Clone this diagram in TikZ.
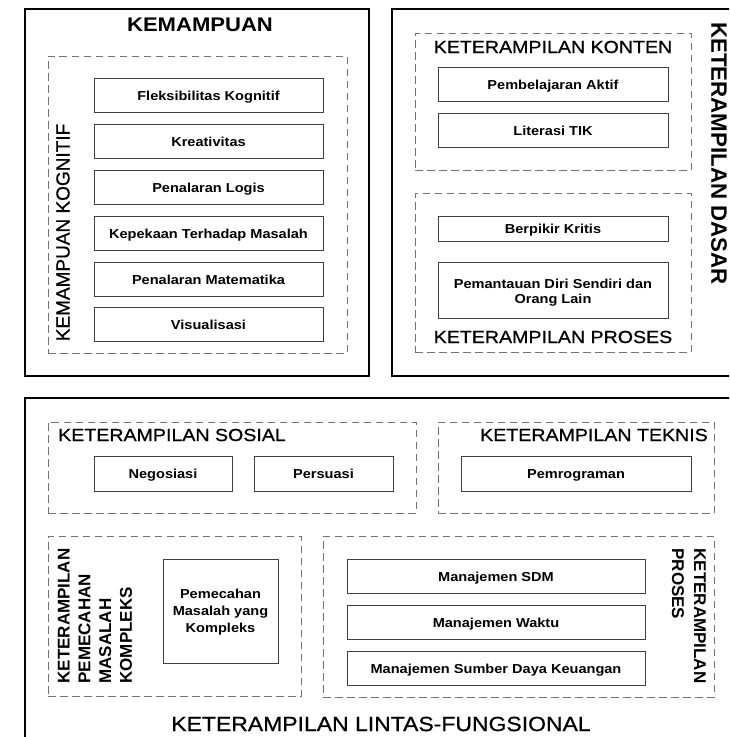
\documentclass[tikz,border=0pt]{standalone}
\usepackage{fontspec}
\setmainfont[FakeStretch=1.12]{Liberation Sans}
\newfontfamily\rotfont{Liberation Sans}
\newfontfamily\titfont[FakeStretch=1.12, FakeBold=0.7]{Liberation Sans}
\newfontfamily\rottitfont[FakeBold=0.7]{Liberation Sans}
\begin{document}
\begin{tikzpicture}[x=1pt,y=-1pt,
  outerbox/.style={draw=black, line width=1.4pt, inner sep=0pt},
  grp/.style={draw=black!55, line width=0.9pt, dash pattern=on 7.5pt off 4.5pt, inner sep=0pt},
  item/.style={draw=black!75, line width=0.9pt, inner sep=0pt, align=center,
    font=\bfseries\fontsize{13}{15}\selectfont},
  one/.style={item, text height=10.3pt, text depth=0pt},
  htitle/.style={inner sep=0pt, font=\titfont\fontsize{17.5}{20}\selectfont},
  btitle/.style={inner sep=0pt, font=\bfseries\fontsize{19.7}{22}\selectfont},
]
\useasboundingbox (0,0) rectangle (729,737);
\clip (0,0) rectangle (729,737);

% ---------- KEMAMPUAN ----------
\node[outerbox, minimum width=344pt, minimum height=367pt] (kem) at (197,192.5) {};
\node[btitle] (kemt) at (200,25) {KEMAMPUAN};
\node[grp, minimum width=299pt, minimum height=297pt] (kog) at (197.5,204.5) {};
\node[inner sep=0pt, rotate=90, font=\rottitfont\fontsize{19}{22}\selectfont] (kogt) at (63,232.5) {KEMAMPUAN KOGNITIF};
\node[one, minimum width=229pt, minimum height=34pt] (k1) at (208.5,95) {Fleksibilitas Kognitif};
\node[one, minimum width=229pt, minimum height=34pt] (k2) at (208.5,141) {Kreativitas};
\node[one, minimum width=229pt, minimum height=34pt] (k3) at (208.5,187) {Penalaran Logis};
\node[one, minimum width=229pt, minimum height=34pt] (k4) at (208.5,233) {Kepekaan Terhadap Masalah};
\node[one, minimum width=229pt, minimum height=34pt] (k5) at (208.5,279) {Penalaran Matematika};
\node[one, minimum width=229pt, minimum height=34pt] (k6) at (208.5,324) {Visualisasi};

% ---------- KETERAMPILAN DASAR ----------
\node[outerbox, minimum width=348pt, minimum height=367pt] (das) at (566,192.5) {};
\node[inner sep=0pt, rotate=-90, font=\rotfont\bfseries\fontsize{22.3}{25}\selectfont] (dast) at (719,153.5) {KETERAMPILAN DASAR};
\node[grp, minimum width=276pt, minimum height=137pt] (kon) at (553,101.5) {};
\node[htitle] (kont) at (553,47) {KETERAMPILAN KONTEN};
\node[one, minimum width=230pt, minimum height=34pt] (d1) at (553,84) {Pembelajaran Aktif};
\node[one, minimum width=230pt, minimum height=34pt] (d2) at (553,130) {Literasi TIK};
\node[grp, minimum width=276pt, minimum height=159pt] (pro) at (553,272.5) {};
\node[htitle] (prot) at (553,337) {KETERAMPILAN PROSES};
\node[one, minimum width=230pt, minimum height=25pt] (d3) at (553,228.5) {Berpikir Kritis};
\node[item, minimum width=230pt, minimum height=56pt] (d4) at (553,290) {\rule{0pt}{14.5pt}Pemantauan Diri Sendiri dan\\Orang Lain};

% ---------- KETERAMPILAN LINTAS-FUNGSIONAL ----------
\node[outerbox, minimum width=715pt, minimum height=347pt] (lin) at (382.5,571.5) {};
\node[inner sep=0pt, font=\titfont\fontsize{20.5}{23}\selectfont] (lint) at (381,724) {KETERAMPILAN LINTAS-FUNGSIONAL};

\node[grp, minimum width=368pt, minimum height=91pt] (sos) at (232,467.5) {};
\node[htitle, anchor=west] (sost) at (58,435) {KETERAMPILAN SOSIAL};
\node[one, minimum width=138pt, minimum height=35pt] (s1) at (163,473.5) {Negosiasi};
\node[one, minimum width=139pt, minimum height=35pt] (s2) at (323.5,473.5) {Persuasi};

\node[grp, minimum width=276pt, minimum height=91pt] (tek) at (576,467.5) {};
\node[htitle, anchor=east] (tekt) at (708,435) {KETERAMPILAN TEKNIS};
\node[one, minimum width=230pt, minimum height=35pt] (t1) at (576,473.5) {Pemrograman};

\node[grp, minimum width=253pt, minimum height=160pt] (pem) at (174.5,616) {};
\node[inner sep=0pt, rotate=90, align=left, font=\rotfont\bfseries\fontsize{17}{20.7}\selectfont] (pemt) at (95,616) {KETERAMPILAN\\PEMECAHAN\\MASALAH\\KOMPLEKS};
\node[item, minimum width=115pt, minimum height=104pt, font=\bfseries\fontsize{13}{17}\selectfont] (p1) at (220.5,611) {\rule{0pt}{11.5pt}Pemecahan\\Masalah yang\\Kompleks};

\node[grp, minimum width=391pt, minimum height=161pt] (lpro) at (518.5,616.5) {};
\node[inner sep=0pt, rotate=-90, align=left, font=\rotfont\bfseries\fontsize{17}{22}\selectfont] (lprot) at (689,616) {KETERAMPILAN\\PROSES};
\node[one, minimum width=298pt, minimum height=34pt] (m1) at (496,576) {Manajemen SDM};
\node[one, minimum width=298pt, minimum height=34pt] (m2) at (496,622) {Manajemen Waktu};
\node[one, minimum width=298pt, minimum height=34pt] (m3) at (496,668) {Manajemen Sumber Daya Keuangan};
\end{tikzpicture}
\end{document}
